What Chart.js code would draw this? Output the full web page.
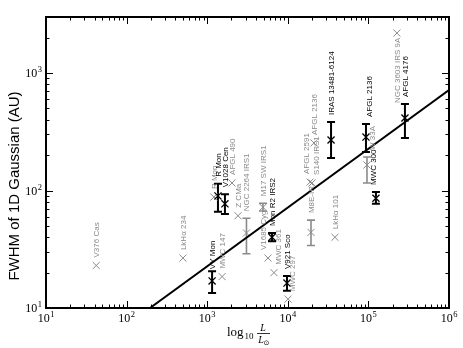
<!DOCTYPE html>
<html>
<head>
<meta charset="utf-8">
<script src="https://cdn.jsdelivr.net/npm/chart.js@4.4.0/dist/chart.umd.min.js"></script>
<style>
  html, body { margin: 0; padding: 0; background: #fff; }
  canvas { display: block; }
</style>
</head>
<body>
<canvas id="fwhmChart" width="463" height="348"></canvas>
<script>
// sources: luminosity (L_sun), FWHM (AU), error range, group
const names  = ['V376 Cas', 'LkHα 234', 'VY Mon', 'MWC 147', 'R Mon', 'R Mon', 'V1028 Cen',
                'AFGL 490', 'Z CMa', 'NGC 2264 IRS1', 'M17 SW IRS1', 'V1685 Cyg', 'MWC 361',
                'Mon R2 IRS2', 'V921 Sco', 'MWC 297', 'AFGL 2591', 'S140 IRS1', 'AFGL 2136',
                'M8E-IR', 'IRAS 13481-6124', 'LkHα 101', 'W 33A', 'AFGL 2136', 'MWC 300',
                'NGC 3603 IRS 9A', 'AFGL 4176'];
const lum    = [42, 500, 1150, 1530, 1210, 1360, 1660,
                2030, 2410, 3070, 4920, 5680, 6740,
                6370, 9770, 10060, 18900, 20000, 21100,
                19400, 34400, 38500, 96000, 93300, 124000,
                226000, 284000];
const fwhm   = [23, 26.6, 17, 18.5, 88, 90, 77,
                116, 61, 43.5, 72, 26.6, 20,
                40, 16.3, 11.9, 118, 116, 254,
                44, 269, 40, 165, 285, 86,
                2190, 414];
const fwhmLo = [null, null, 13.4, null, null, 66, 63,
                null, null, 29, 67, null, null,
                37, 14, null, null, null, null,
                34, 189, null, 116, 213, 77,
                null, 280];
const fwhmHi = [null, null, 20.6, null, null, 114, 93,
                null, null, 58, 78, null, null,
                43.5, 18.7, null, null, null, null,
                56, 383, null, 193, 368, 97,
                null, 545];
const group  = ['lit', 'lit', 'new', 'lit', 'lit', 'new', 'new',
                'lit', 'lit', 'lit', 'lit', 'lit', 'lit',
                'new', 'new', 'lit', 'lit', 'lit', 'lit',
                'lit', 'new', 'lit', 'lit', 'new', 'new',
                'lit', 'new'];

// size-luminosity fit, end points
const fitLum  = [195, 1e6];
const fitFwhm = [10, 716];

const xTicks = [1e1, 1e2, 1e3, 1e4, 1e5, 1e6];
const xTickExp = ['1', '2', '3', '4', '5', '6'];
const yTicks = [1e1, 1e2, 1e3];
const yTickExp = ['1', '2', '3'];

// label nudges in px (layout only)
const labelNudge = {
  2: [0, 5], 11: [-5, 0], 12: [4, 0], 15: [4, 0], 16: [-4, 0], 17: [4, 0],
  22: [5, 0], 23: [3, 0], 24: [-3, 0], 25: [0, 78]
};

const GREY = '#8a8a8a';
const colorOf = g => g === 'new' ? '#000' : GREY;

function pts(g) {
  return lum.map((l, i) => ({ x: l, y: fwhm[i], g: group[i] })).filter(p => p.g === g);
}

function drawPow(ctx, exp, x, y, align) {
  ctx.font = '12px "Liberation Serif", "DejaVu Serif", serif';
  const w1 = ctx.measureText('10').width;
  ctx.font = '8.5px "Liberation Serif", "DejaVu Serif", serif';
  const w2 = ctx.measureText(exp).width;
  const w = w1 + w2 + 0.5;
  let x0 = align === 'right' ? x - w : x - w / 2;
  ctx.textAlign = 'left';
  ctx.textBaseline = 'alphabetic';
  ctx.font = '12px "Liberation Serif", "DejaVu Serif", serif';
  ctx.fillText('10', x0, y);
  ctx.font = '8.5px "Liberation Serif", "DejaVu Serif", serif';
  ctx.fillText(exp, x0 + w1 + 0.5, y - 5);
}

const overlay = {
  id: 'overlay',
  beforeDatasetsDraw(chart) {
    const { ctx, scales: { x, y } } = chart;
    ctx.save();
    names.forEach((n, i) => {
      if (fwhmLo[i] == null) return;
      const px = x.getPixelForValue(lum[i]);
      const t = y.getPixelForValue(fwhmHi[i]);
      const b = y.getPixelForValue(fwhmLo[i]);
      ctx.strokeStyle = colorOf(group[i]);
      ctx.lineWidth = group[i] === 'new' ? 2 : 1.6;
      ctx.beginPath();
      ctx.moveTo(px, t); ctx.lineTo(px, b);
      ctx.moveTo(px - 4, t); ctx.lineTo(px + 4, t);
      ctx.moveTo(px - 4, b); ctx.lineTo(px + 4, b);
      ctx.stroke();
    });
    ctx.restore();
  },
  afterDatasetsDraw(chart) {
    const { ctx, scales: { x, y } } = chart;
    ctx.save();
    ctx.font = '8px "Liberation Sans", Arial, sans-serif';
    ctx.textAlign = 'left';
    ctx.textBaseline = 'middle';
    names.forEach((n, i) => {
      const px = x.getPixelForValue(lum[i]);
      const py = y.getPixelForValue(fwhm[i]);
      let bottom = py - 8;
      if (fwhmHi[i] != null) bottom = Math.min(bottom, y.getPixelForValue(fwhmHi[i]) - 7);
      const nd = labelNudge[i] || [0, 0];
      ctx.fillStyle = colorOf(group[i]);
      ctx.save();
      ctx.translate(px + nd[0], bottom + nd[1]);
      ctx.rotate(-Math.PI / 2);
      ctx.fillText(n, 0, 0.5);
      ctx.restore();
    });
    ctx.restore();
  },
  afterDraw(chart) {
    const { ctx, chartArea: a, scales: { x, y } } = chart;
    ctx.save();
    ctx.strokeStyle = '#000';
    ctx.fillStyle = '#000';
    // ticks, pointing inward on all sides
    ctx.lineWidth = 1;
    ctx.beginPath();
    for (let d = 1; d <= 6; d++) {
      for (let m = 1; m <= 9; m++) {
        const v = m * Math.pow(10, d);
        if (v > 1e6) break;
        const px = Math.round(x.getPixelForValue(v)) + 0.5;
        const len = m === 1 ? 7 : 3.5;
        ctx.moveTo(px, a.bottom); ctx.lineTo(px, a.bottom - len);
        ctx.moveTo(px, a.top); ctx.lineTo(px, a.top + len);
      }
    }
    for (let d = 1; d <= 3; d++) {
      for (let m = 1; m <= 9; m++) {
        const v = m * Math.pow(10, d);
        if (v > 3000) break;
        const py = Math.round(y.getPixelForValue(v)) + 0.5;
        const len = m === 1 ? 7 : 3.5;
        ctx.moveTo(a.left, py); ctx.lineTo(a.left + len, py);
        ctx.moveTo(a.right, py); ctx.lineTo(a.right - len, py);
      }
    }
    ctx.stroke();
    // frame
    ctx.lineWidth = 2;
    ctx.strokeRect(a.left, a.top, a.right - a.left, a.bottom - a.top);
    // tick labels
    xTicks.forEach((v, i) => drawPow(ctx, xTickExp[i], x.getPixelForValue(v), a.bottom + 14, 'center'));
    yTicks.forEach((v, i) => drawPow(ctx, yTickExp[i], a.left - 4, y.getPixelForValue(v) + 4, 'right'));
    // y title
    ctx.save();
    ctx.translate(15, 186);
    ctx.rotate(-Math.PI / 2);
    ctx.font = '15px "Liberation Sans", Arial, sans-serif';
    ctx.textAlign = 'center';
    ctx.textBaseline = 'middle';
    ctx.fillText('FWHM of 1D Gaussian (AU)', 0, 0);
    ctx.restore();
    // x title: log10 L/Lsun
    ctx.textAlign = 'left';
    ctx.textBaseline = 'alphabetic';
    ctx.font = '13px "Liberation Serif", "DejaVu Serif", serif';
    ctx.fillText('log', 227, 336);
    const wl = ctx.measureText('log').width;
    ctx.font = '9px "Liberation Serif", "DejaVu Serif", serif';
    ctx.fillText('10', 227 + wl + 1, 339);
    const fx = 263;
    ctx.font = 'italic 10px "Liberation Serif", "DejaVu Serif", serif';
    ctx.textAlign = 'center';
    ctx.fillText('L', fx, 331);
    ctx.fillText('L', fx - 2, 343);
    ctx.font = '7px "DejaVu Sans", sans-serif';
    ctx.fillText('⊙', fx + 3.5, 345);
    ctx.lineWidth = 0.8;
    ctx.beginPath();
    ctx.moveTo(fx - 6, 333.5); ctx.lineTo(fx + 7, 333.5);
    ctx.stroke();
    ctx.restore();
  }
};

new Chart(document.getElementById('fwhmChart'), {
  type: 'scatter',
  data: {
    datasets: [
      {
        type: 'line',
        data: fitLum.map((l, i) => ({ x: l, y: fitFwhm[i] })),
        borderColor: '#000',
        borderWidth: 2,
        pointRadius: 0,
        order: 0
      },
      {
        data: pts('new'),
        pointStyle: 'crossRot',
        pointRadius: 5,
        borderColor: '#000',
        borderWidth: 1.3,
        order: 1
      },
      {
        data: pts('lit'),
        pointStyle: 'crossRot',
        pointRadius: 5,
        borderColor: GREY,
        borderWidth: 1,
        order: 2
      }
    ]
  },
  options: {
    responsive: false,
    animation: false,
    devicePixelRatio: 1,
    layout: { padding: { left: 46, right: 14, top: 17, bottom: 40 } },
    plugins: { legend: { display: false }, tooltip: { enabled: false } },
    scales: {
      x: { type: 'logarithmic', min: 10, max: 1e6, display: false },
      y: { type: 'logarithmic', min: 10, max: 3000, display: false }
    }
  },
  plugins: [overlay]
});
</script>
</body>
</html>
